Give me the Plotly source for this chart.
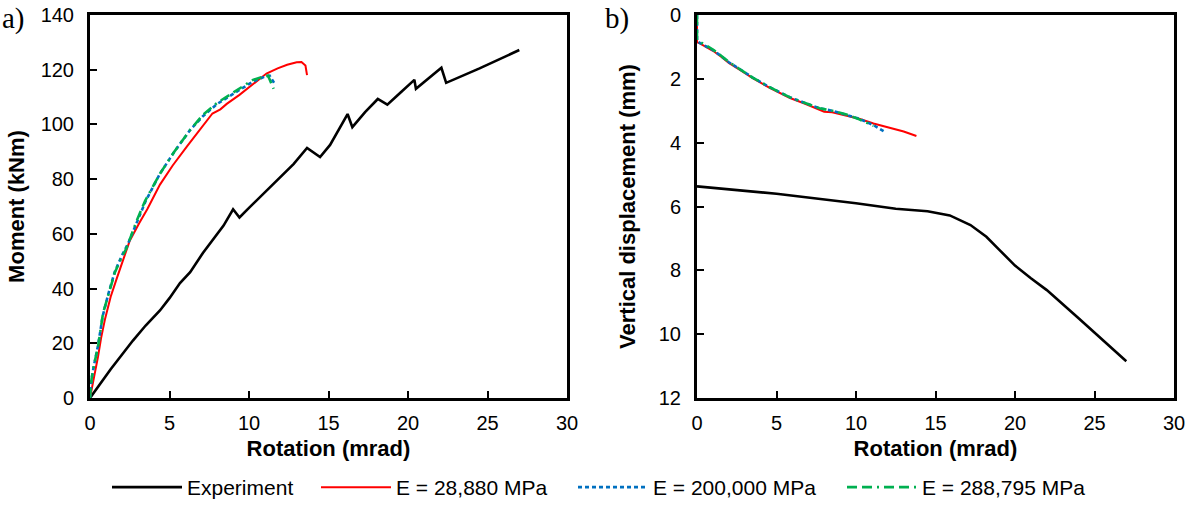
import plotly.graph_objects as go

# ---- Panel a): moment vs rotation ----
exp_rot_a = [0, 1.3, 2.7, 3.5, 4.4, 5.0, 5.66, 6.3, 7.1, 7.8, 8.4, 9.0, 9.4, 10.0, 10.5,
             11.2, 11.95, 12.8, 13.65, 14.47, 15.1, 15.6, 16.2, 16.5, 17.3, 18.1, 18.7,
             19.5, 20.4, 20.5, 21.3, 22.1, 22.4, 24.5, 27.0]
exp_mom_a = [0, 10.5, 21, 26.5, 32, 36.5, 42, 46, 53, 58.5, 63, 69, 66, 69.5, 72.4,
             76.5, 80.8, 85.5, 91.4, 88.1, 92.5, 97.5, 103.8, 99, 104.5, 109.3, 107.2,
             111.5, 116.3, 113, 117, 120.7, 115.2, 120.5, 127.2]

e1_rot_a = [0, 0.15, 0.3, 0.5, 0.7, 0.95, 1.3, 1.7, 2.1, 2.5, 3.1, 3.6, 4.4, 5.2, 6.1,
            6.9, 7.7, 8.2, 8.6, 9.4, 10.2, 11.1, 11.8, 12.4, 13.0, 13.3, 13.55, 13.65]
e1_mom_a = [0, 5, 9, 15, 22, 29, 37, 44, 51, 57.5, 64, 69, 78, 85, 92,
            98, 104, 105.5, 107.5, 110.8, 114.5, 118.6, 120.5, 121.8, 122.7, 122.8, 121.5, 118]

e2_rot_a = [0, 0.1, 0.25, 0.5, 0.8, 1.15, 1.55, 2.0, 2.4, 2.95, 3.5, 4.4, 5.3, 6.3,
            7.1, 8.0, 9.0, 10.2, 11.0, 11.3, 11.6]
e2_mom_a = [0, 7, 12, 19, 30, 38, 46, 52, 56.5, 64, 72, 82, 90, 98,
            103, 107.5, 111.2, 115.5, 117.5, 117.8, 115]

e3_rot_a = [0, 0.1, 0.25, 0.5, 0.82, 1.15, 1.57, 2.0, 2.3, 2.95, 3.46, 4.4, 5.3, 6.3,
            7.1, 8.0, 9.0, 10.25, 11.0, 11.2, 11.55]
e3_mom_a = [0, 7, 12, 18.6, 31, 38, 46, 51.5, 54.8, 65, 72, 82, 90, 98,
            103.5, 107.9, 111.5, 116.3, 117.7, 117.8, 113]

# ---- Panel b): vertical displacement vs rotation ----
exp_rot_b = [0, 5, 10, 12.5, 14.5, 15.9, 17.2, 18.2, 19.0, 20.0, 21.0, 22.0, 24.0, 27.0]
exp_dsp_b = [5.37, 5.6, 5.9, 6.07, 6.15, 6.28, 6.58, 6.95, 7.35, 7.85, 8.25, 8.62, 9.5, 10.85]

e1_rot_b = [0, 0, 0.2, 0.6, 1.0, 1.5, 2.0, 2.7, 3.5, 4.6, 5.85, 6.8, 7.7, 8.0, 8.5,
            9.4, 10.2, 11.1, 12.0, 13.0, 13.8]
e1_dsp_b = [0, 0.85, 0.9, 1.0, 1.12, 1.3, 1.5, 1.72, 1.98, 2.29, 2.6, 2.78, 2.95, 3.03, 3.05,
            3.15, 3.25, 3.4, 3.52, 3.65, 3.79]

e2_rot_b = [0, 0, 0.2, 0.6, 1.0, 1.5, 2.0, 2.7, 3.5, 4.6, 5.85, 6.8, 7.7, 8.5,
            9.4, 10.2, 11.1, 11.8]
e2_dsp_b = [0, 0.82, 0.88, 0.98, 1.1, 1.28, 1.48, 1.7, 1.96, 2.27, 2.58, 2.76, 2.92, 3.0,
            3.12, 3.25, 3.45, 3.66]

e3_rot_b = [0, 0, 0.2, 0.6, 1.0, 1.5, 2.0, 2.7, 3.5, 4.6, 5.85, 6.8, 7.7, 8.5,
            9.4, 10.2, 11.1]
e3_dsp_b = [0, 0.78, 0.85, 0.97, 1.08, 1.27, 1.47, 1.7, 1.96, 2.27, 2.58, 2.76, 2.92, 3.0,
            3.12, 3.27, 3.47]

series_names = ["Experiment", "E = 28,880 MPa", "E = 200,000 MPa", "E = 288,795 MPa"]
series_colors = ["#000000", "#FF0000", "#0070C0", "#00B050"]
series_dash = ["solid", "solid", "4px,3px", "10px,5px,10px,5px,2px,5px"]
series_width = [2.6, 2.0, 2.6, 2.6]

panel_a = [(exp_rot_a, exp_mom_a), (e1_rot_a, e1_mom_a), (e2_rot_a, e2_mom_a), (e3_rot_a, e3_mom_a)]
panel_b = [(exp_rot_b, exp_dsp_b), (e1_rot_b, e1_dsp_b), (e2_rot_b, e2_dsp_b), (e3_rot_b, e3_dsp_b)]

W, H = 1188, 508
legend_ids = ["legend", "legend2", "legend3", "legend4"]
legend_left_px = [107, 316, 573, 842]   # left edge of each legend entry

fig = go.Figure()
for i, (x, y) in enumerate(panel_a):
    fig.add_trace(go.Scatter(x=x, y=y, mode="lines", name=series_names[i],
                             legendgroup=f"g{i}", legend=legend_ids[i],
                             line=dict(color=series_colors[i], width=series_width[i],
                                       dash=series_dash[i]),
                             xaxis="x", yaxis="y", showlegend=True))
for i, (x, y) in enumerate(panel_b):
    fig.add_trace(go.Scatter(x=x, y=y, mode="lines", name=series_names[i],
                             legendgroup=f"g{i}", legend=legend_ids[i],
                             line=dict(color=series_colors[i], width=series_width[i],
                                       dash=series_dash[i]),
                             xaxis="x2", yaxis="y2", showlegend=False))

ya_dom = [1 - 398 / H, 1 - 15 / H]
sans = "Liberation Sans, Arial, sans-serif"
serif = "Liberation Serif, Times New Roman, serif"
tick_font = dict(family=sans, size=20, color="#000")
title_font = dict(family=sans, size=22, color="#000")

common = dict(showline=True, linecolor="#000", linewidth=3, mirror=True,
              ticks="inside", ticklen=7, tickwidth=2, tickcolor="#000",
              showgrid=False, zeroline=False, tickfont=tick_font, automargin=False)

legend_style = dict(orientation="h", y=0, yanchor="bottom", xanchor="left",
                    font=dict(family=sans, size=21, color="#000"),
                    itemwidth=70, bgcolor="rgba(0,0,0,0)", borderwidth=0)

layout_legends = {lid: dict(x=legend_left_px[i] / W, **legend_style)
                  for i, lid in enumerate(legend_ids)}

fig.update_layout(
    width=W, height=H,
    margin=dict(l=0, r=0, t=0, b=0),
    paper_bgcolor="white", plot_bgcolor="white",
    xaxis=dict(domain=[90 / W, 567 / W], range=[0, 30], dtick=5, anchor="y",
               ticklabelstandoff=5,
               title=dict(text="<b>Rotation (mrad)</b>", font=title_font, standoff=8),
               **common),
    yaxis=dict(domain=ya_dom, range=[0, 140], dtick=20, anchor="x",
               ticklabelstandoff=9,
               title=dict(text="<b>Moment (kNm)</b>", font=title_font, standoff=10),
               **common),
    xaxis2=dict(domain=[697 / W, 1174 / W], range=[0, 30], dtick=5, anchor="y2",
                ticklabelstandoff=5,
                title=dict(text="<b>Rotation (mrad)</b>", font=title_font, standoff=8),
                **common),
    yaxis2=dict(domain=ya_dom, range=[12, 0], dtick=2, anchor="x2",
                ticklabelstandoff=9,
                title=dict(text="<b>Vertical displacement (mm)</b>", font=title_font, standoff=18),
                **common),
    annotations=[
        dict(text="a)", x=0, y=1, xref="paper", yref="paper", xanchor="left",
             yanchor="top", showarrow=False, font=dict(family=serif, size=29, color="#000")),
        dict(text="b)", x=603 / W, y=1, xref="paper", yref="paper", xanchor="left",
             yanchor="top", showarrow=False, font=dict(family=serif, size=29, color="#000")),
    ],
    **layout_legends,
)

fig.write_html("out.html")
